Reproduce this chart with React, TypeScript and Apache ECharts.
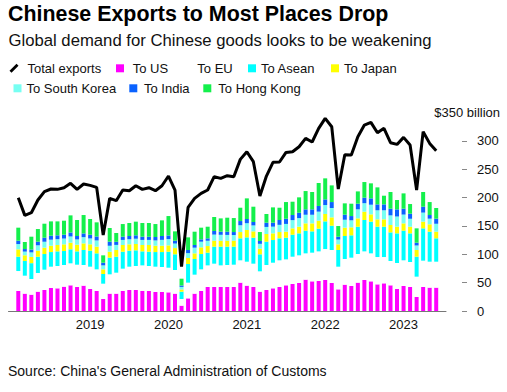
import React, { useEffect, useRef } from "react";
import * as echarts from "echarts";

const months = [
  "2018-01","2018-02","2018-03","2018-04","2018-05","2018-06","2018-07","2018-08","2018-09","2018-10","2018-11","2018-12",
  "2019-01","2019-02","2019-03","2019-04","2019-05","2019-06","2019-07","2019-08","2019-09","2019-10","2019-11","2019-12",
  "2020-01","2020-02","2020-03","2020-04","2020-05","2020-06","2020-07","2020-08","2020-09","2020-10","2020-11","2020-12",
  "2021-01","2021-02","2021-03","2021-04","2021-05","2021-06","2021-07","2021-08","2021-09","2021-10","2021-11","2021-12",
  "2022-01","2022-02","2022-03","2022-04","2022-05","2022-06","2022-07","2022-08","2022-09","2022-10","2022-11","2022-12",
  "2023-01","2023-02","2023-03","2023-04","2023-05",
];

// Year ticks fall on the end of each December
const tickMonths = ["2018-12", "2019-12", "2020-12", "2021-12", "2022-12"];
const yearLabels = ["2019", "2020", "2021", "2022", "2023"];
const yTicks = [0, 50, 100, 150, 200, 250, 300];

const totalExports = [
  199.9,168.7,173.4,195.8,210.5,215.2,214.6,217.5,225.2,214.6,224,221.6,
  218.1,134,198.7,194.6,213.4,212.2,221,214.6,217.5,212.2,221,238.1,
  213.4,78.2,182.8,198.7,207.5,213.4,236.9,234,238.7,236.9,267.5,281,
  263.4,202.8,238.1,262.2,262.8,279.8,281,289.8,304.5,298.1,322.2,339.8,
  325.1,215.2,275.7,275.1,307.5,328,332.7,314.5,322.2,296.9,293.9,306.3,
  292.8,213.4,316.3,295.7,282.8,
];

const toUS = [
  35.3,30.6,28.8,34.1,37,40.6,40,42.9,45.3,42.3,44.7,38.8,
  35.3,21.2,30.6,30.6,35.3,37,37,35.3,35.3,33.5,33.5,32.9,
  30.6,9.4,22.3,30.6,35.3,42.3,42.3,42.3,42.3,42.3,50,44.7,
  42.3,34.1,37,40,42.3,45.3,47.6,49.4,55.3,52.3,52.9,54.7,
  49.4,38.2,46.4,44.1,50,54.7,52.3,47,48.8,45.3,38.8,44.1,
  42.3,24.7,42.3,41.2,41.2,
];

const toEU = [
  35.2,31.7,27.6,32.9,35.9,37.6,39.4,38.2,38.8,39.4,36.4,39.4,
  38.2,27,34.1,37,39.4,41.2,42.4,45.2,44.1,44.7,44.1,43.5,
  41.7,11.8,27.7,33.5,38.2,38.2,41.2,38.2,38.8,39.4,39.4,42.3,
  41.2,35.9,44.1,45.2,47.1,45.8,48.2,48.8,46.4,50.6,52.3,54.6,
  58.2,40,45.3,50,50.5,50.5,49.4,48.2,46.4,42.9,45.9,45.3,
  44.1,35.9,46.5,45.8,45.8,
];

const toAsean = [
  25.3,26,28,28.8,27.6,25.8,25.8,24.7,24.7,23.5,26.5,28.2,
  28.2,17.1,29.4,28.2,29.9,28.2,27.6,24.7,25.2,25.8,26.4,28.2,
  27.7,12.9,32.9,27.6,27,22.4,30,33,32.4,31.8,38.8,42.9,
  45.8,30,41.2,40,38.8,38.2,38.8,38.8,40,37.6,40,48.8,
  42.9,29.4,40.6,39.4,48.2,55.3,55.9,53.5,53.5,50.5,52.3,52.3,
  50.6,35.2,57,52.9,41.2,
];

const toJapan = [
  13,10,11,10.6,11.2,11.2,11.2,11.8,11.7,11.7,11.7,11.2,
  11.8,8.2,10.5,11.8,11.8,11.2,11.2,11.2,11.8,11.2,11.2,11.2,
  11,3.9,10.6,10,11.8,11.7,10.5,10.5,10.5,10.5,11.1,13,
  11.2,10,13.5,11.8,11.1,10.6,11.2,11.7,12.9,14.1,14.1,13,
  14.7,10,14.7,14.1,14.7,14.7,12.9,13,13,13,11.7,12.9,
  11.7,11.8,11.8,13,11.7,
];

const toSouthKorea = [
  9.3,6.5,8,9.5,10.5,10.6,10.3,10.2,11,9.4,11,10.4,
  11,7,10.5,9,9,9,9.3,9,9,9.3,10.3,11,
  8,4.5,8.6,10,10,9.3,10.8,10.4,10.2,10,12,12,
  10.5,8.5,12.5,11.8,12.7,13.7,14.5,15.2,15.2,15.2,16,15.8,
  16.5,8.5,14,12.4,16,15,17,16,16,17,18,15.5,
  14,8,16,10,14,
];

const toIndia = [
  5.9,4.5,5,6.4,7.1,7.1,6.8,6.8,7,6,6.5,6.6,
  7,4.7,7.2,5.5,5.7,5.7,6,5.7,5.7,6,6.8,6.5,
  5,2.5,5.5,4.7,4.1,4.3,6.3,5.5,5.7,5.3,7.4,7.4,
  6,5,7.5,7,8.5,9.2,9,9.5,9.5,9.5,10,10,
  10.5,5,8.9,7.5,9.9,9.7,11.2,10.4,10.4,11.8,12.6,10.4,
  9,4.9,10.4,6.4,9,
];

const toHongKong = [
  23,12.4,22.7,22.3,24.7,25.2,24.6,24.7,30.2,28.2,32.5,27.7,
  24.9,13,24.1,15.5,22.3,22.9,24.1,24.1,24.1,22.9,27.6,34.2,
  16.5,12,22.3,23.5,20.6,20.5,24.7,23.5,24.7,24.7,23.5,36.4,
  27,15.8,15.3,27,21.7,29.4,23.5,27.1,32.3,30.6,40.5,37.1,
  29.4,18.8,20,21.8,21.7,27.6,26.5,30,15.3,29.4,16.5,27,
  17,25.3,25.9,22.9,18.8,
];

const barSeries = [
  { name: "To US", values: toUS, color: "#ff00ff" },
  { name: "To EU", values: toEU, color: "#ffffff" },
  { name: "To Asean", values: toAsean, color: "#00ffff" },
  { name: "To Japan", values: toJapan, color: "#ffff00" },
  { name: "To South Korea", values: toSouthKorea, color: "#77fff2" },
  { name: "To India", values: toIndia, color: "#0a62ff" },
  { name: "To Hong Kong", values: toHongKong, color: "#14f04c" },
];

const FONT = "'Liberation Sans', Arial, Helvetica, sans-serif";
const LINE_ICON = "path://M0,7 L7,0 L9,2 L2,9 Z";

// legend placement: [name, left, top, textPadLeft]
const legendRows: [string, number, number, number][] = [
  ["Total exports", 9.5, 61.8, 4],
  ["To US", 116, 61.8, 3.7],
  ["To EU", 184.3, 61.8, 0],
  ["To Asean", 248, 61.8, 0],
  ["To Japan", 331, 61.8, 0],
  ["To South Korea", 13.5, 81.8, 0],
  ["To India", 129.3, 81.8, 1.7],
  ["To Hong Kong", 203.3, 81.8, 2],
];

export default function App() {
  const ref = useRef<HTMLDivElement>(null);

  useEffect(() => {
    if (!ref.current) return;
    const chart = echarts.init(ref.current, null, { renderer: "svg" });

    const pad = (arr: number[]) => [null, ...arr, null];
    const cats = ["", ...months, " "];
    const isTick = (_i: number, v: string) => tickMonths.indexOf(v) >= 0;

    const series: any[] = barSeries.map((s) => ({
      name: s.name,
      type: "bar",
      stack: "exports",
      barWidth: 4,
      data: pad(s.values),
      itemStyle: { color: s.color },
      emphasis: { disabled: true },
    }));
    series.push({
      name: "Total exports",
      type: "line",
      data: pad(totalExports),
      symbol: "none",
      z: 10,
      lineStyle: { color: "#000", width: 3 },
      itemStyle: { color: "#000" },
      emphasis: { disabled: true },
    });

    const legends = legendRows.map(([name, left, top, padL]) => ({
      data: [
        name === "Total exports"
          ? { name, icon: LINE_ICON }
          : { name, icon: "rect" },
      ],
      left,
      top,
      padding: 0,
      itemWidth: name === "Total exports" ? 9 : 8,
      itemHeight: name === "Total exports" ? 9 : 8,
      selectedMode: false,
      textStyle: {
        fontFamily: FONT,
        fontSize: 13,
        color: "#111",
        padding: [0, 0, 0, padL],
      },
    }));

    chart.setOption({
      animation: false,
      textStyle: { fontFamily: FONT },
      title: [
        {
          text: "Chinese Exports to Most Places Drop",
          left: 8,
          top: 3,
          padding: 0,
          textStyle: { fontFamily: FONT, fontSize: 21.4, fontWeight: "bold", color: "#000" },
        },
        {
          text: "Global demand for Chinese goods looks to be weakening",
          left: 8.5,
          top: 32,
          padding: 0,
          textStyle: { fontFamily: FONT, fontSize: 16.7, fontWeight: "normal", color: "#111" },
        },
        {
          text: "Source: China's General Administration of Customs",
          left: 8,
          top: 364,
          padding: 0,
          textStyle: { fontFamily: FONT, fontSize: 14, fontWeight: "normal", color: "#111" },
        },
      ],
      legend: legends,
      grid: { left: 8.5, right: 61, top: 112.6, bottom: 81, containLabel: false },
      xAxis: {
        type: "category",
        data: cats,
        boundaryGap: true,
        axisLine: { lineStyle: { color: "#777", width: 1 } },
        axisTick: {
          alignWithLabel: true,
          interval: isTick,
          length: 5,
          lineStyle: { color: "#444" },
        },
        axisLabel: {
          interval: isTick,
          formatter: (v: string) => {
            const k = tickMonths.indexOf(v);
            return k >= 0 ? yearLabels[k] : "";
          },
          fontSize: 13,
          color: "#111",
          margin: 7,
          fontFamily: FONT,
        },
        splitLine: { show: false },
      },
      yAxis: {
        type: "value",
        position: "right",
        offset: 16,
        min: 0,
        max: 350,
        interval: 50,
        axisLine: { show: false },
        axisTick: {
          show: true,
          length: 5,
          lineStyle: { color: "#888" },
          customValues: yTicks,
        },
        axisLabel: {
          margin: 15,
          fontSize: 13,
          color: "#111",
          fontFamily: FONT,
          customValues: yTicks,
        },
        splitLine: { show: false },
      },
      graphic: [
        {
          type: "text",
          right: 7,
          top: 106,
          style: {
            text: "$350 billion",
            fontSize: 13,
            fontFamily: FONT,
            fill: "#111",
          },
        },
      ],
      series,
    });

    return () => chart.dispose();
  }, []);

  return <div ref={ref} style={{ width: 507, height: 392, position: "absolute", left: 0, top: 0 }} />;
}
